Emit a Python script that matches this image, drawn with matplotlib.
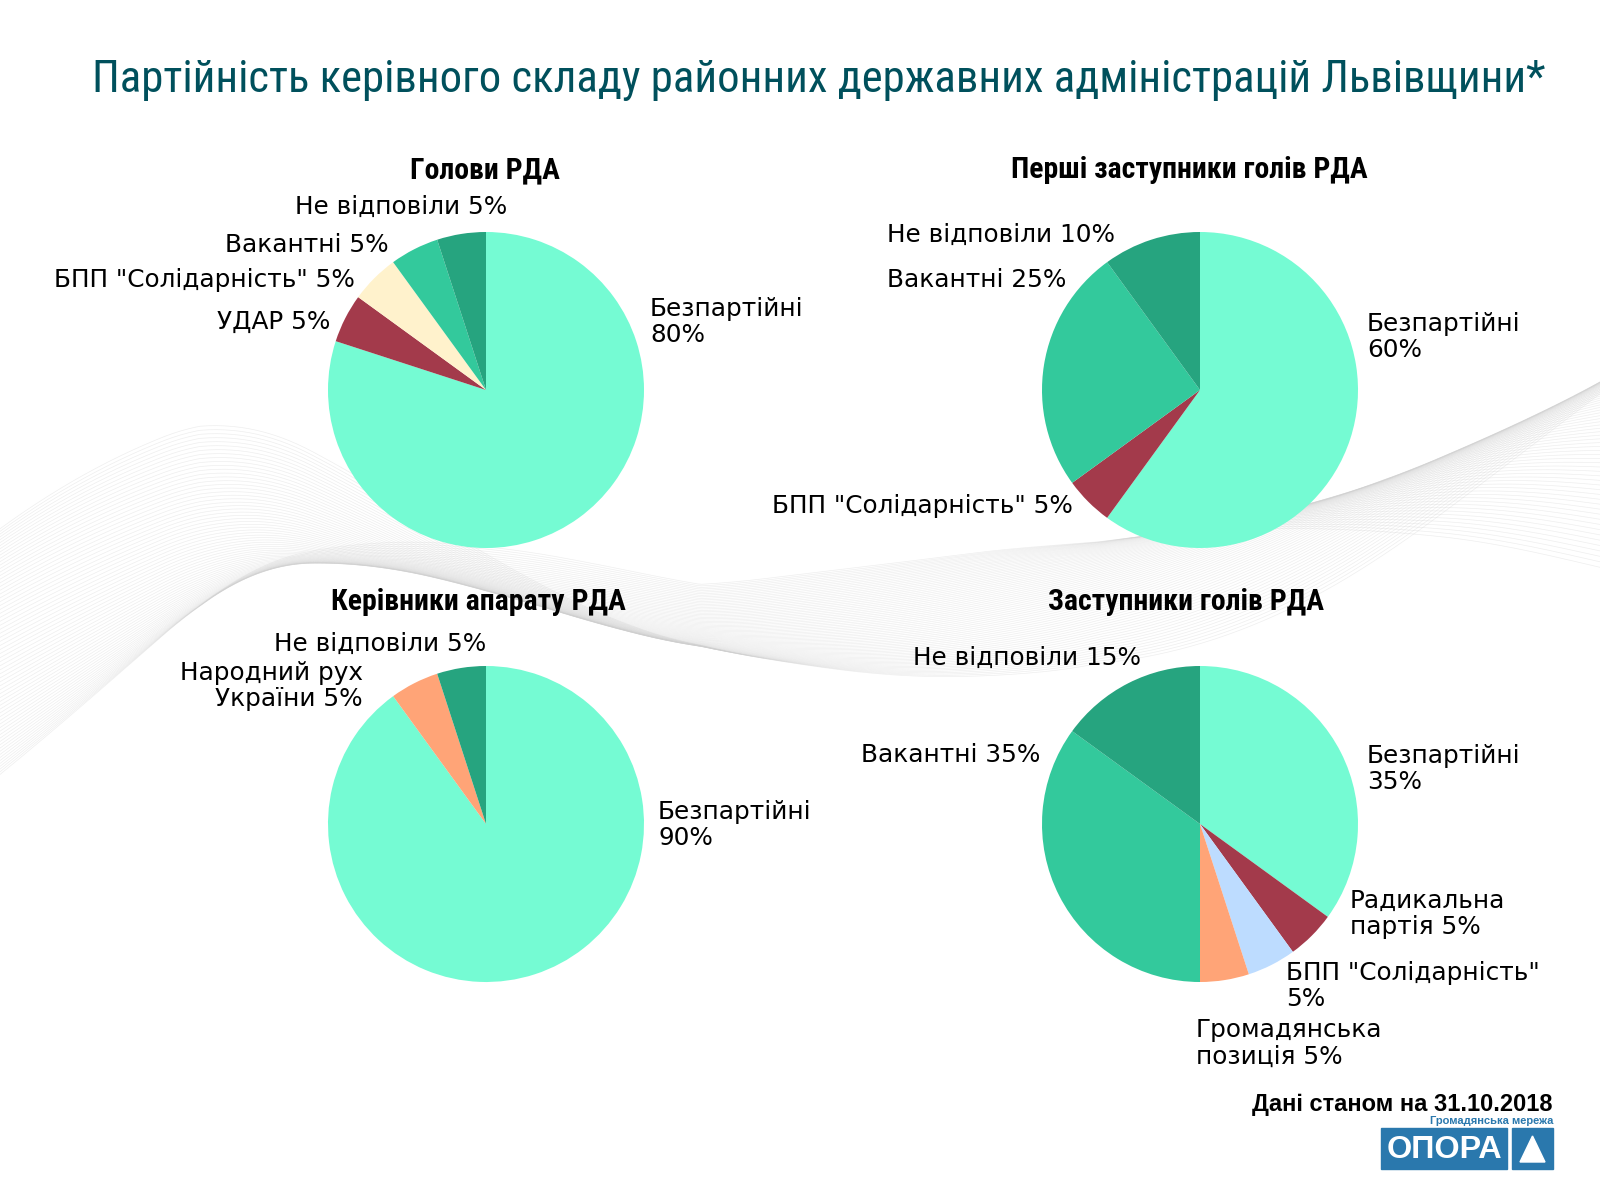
import matplotlib
matplotlib.use('Agg')
import matplotlib.pyplot as plt
from matplotlib.patches import Rectangle, Polygon
import numpy as np

# шрифти
plt.rcParams['font.family'] = ['DejaVu Sans']
NARROW = ['Roboto Condensed', 'Liberation Sans Narrow', 'DejaVu Sans']

# дані
tl_title = 'Голови РДА'
tl_labels = ['Безпартійні', 'УДАР', 'БПП "Солідарність"', 'Вакантні', 'Не відповіли']
tl_values = [80, 5, 5, 5, 5]

tr_title = 'Перші заступники голів РДА'
tr_labels = ['Безпартійні', 'БПП "Солідарність"', 'Вакантні', 'Не відповіли']
tr_values = [60, 5, 25, 10]

bl_title = 'Керівники апарату РДА'
bl_labels = ['Безпартійні', 'Народний рух України', 'Не відповіли']
bl_values = [90, 5, 5]

br_title = 'Заступники голів РДА'
br_labels = ['Безпартійні', 'Радикальна партія', 'БПП "Солідарність"',
             'Громадянська позиція', 'Вакантні', 'Не відповіли']
br_values = [35, 5, 5, 5, 35, 15]

colors = {
    'Безпартійні': '#75fbd3',
    'Вакантні': '#33c99c',
    'Не відповіли': '#26a47f',
    'УДАР': '#a33a4b',
    'Радикальна партія': '#a33a4b',
    'БПП "Солідарність"': '#fff2cc',
    'Народний рух України': '#ffa477',
    'Громадянська позиція': '#ffa477',
}

fig = plt.figure(figsize=(16, 12), dpi=100)
ax = fig.add_axes([0, 0, 1, 1])

# фонова хвиля (декор)
xs = np.linspace(0, 1600, 400)
cx = [0, 150, 400, 600, 800, 1000, 1200, 1400, 1600]
cy = [700, 520, 560, 630, 640, 610, 560, 470, 400]
centre = np.interp(xs, cx, cy)
centre = np.convolve(np.pad(centre, 40, mode='edge'), np.ones(81) / 81, mode='valid')
wid = np.interp(xs, [0, 200, 700, 1100, 1600], [140, 130, 50, 80, 170])
for t in np.linspace(-1, 1, 70):
    y = centre + t * wid * np.cos(xs / 300.0 + t * 0.5)
    ax.plot(xs, y, color='#cfcfcf', lw=0.5, alpha=0.35, zorder=0)


def draw_pie(values, labels, centre_xy, override=None):
    cols = [colors[l] for l in labels]
    if override:
        for i, c in override.items():
            cols[i] = c
    # y-вісь перевернута, тому counterclock=True дає обхід за годинниковою
    ax.pie(values, colors=cols, startangle=-90, counterclock=True,
           center=centre_xy, radius=158, frame=True,
           wedgeprops=dict(linewidth=0))


draw_pie(tl_values, tl_labels, (486, 390))
draw_pie(tr_values, tr_labels, (1200, 390), {1: '#a33a4b'})
draw_pie(bl_values, bl_labels, (486, 824))
draw_pie(br_values, br_labels, (1200, 824), {2: '#bddcff'})

ax.set_xlim(0, 1600)
ax.set_ylim(1200, 0)
ax.set_aspect('equal')
ax.axis('off')

renderer = fig.canvas.get_renderer()


def fit_text(x, y, s, width, size, **kw):
    t = ax.text(x, y, s, fontsize=size, **kw)
    w = t.get_window_extent(renderer).width
    if w > width:
        t.set_fontsize(size * width / w)
    return t


# заголовки
fit_text(819, 80, 'Партійність керівного складу районних державних адміністрацій Львівщини*',
         1454, 40, family=NARROW, fontstretch='condensed', color='#00505c',
         ha='center', va='center')
sub = dict(family=NARROW, fontstretch='condensed', fontweight='bold', color='black',
           ha='center', va='center')
fit_text(485, 170, tl_title, 150, 26, **sub)
fit_text(1189, 170, tr_title, 358, 26, **sub)
fit_text(478, 602, bl_title, 296, 26, **sub)
fit_text(1186, 602, br_title, 276, 26, **sub)

lab = dict(fontsize=17.8, color='black', va='center', linespacing=1.15)
# Голови РДА
ax.text(507, 207, 'Не відповіли 5%', ha='right', **lab)
ax.text(389, 245, 'Вакантні 5%', ha='right', **lab)
ax.text(355, 280, 'БПП "Солідарність" 5%', ha='right', **lab)
ax.text(330, 322, 'УДАР 5%', ha='right', **lab)
ax.text(650, 322, 'Безпартійні\n80%', ha='left', **lab)
# Перші заступники
ax.text(1115, 235, 'Не відповіли 10%', ha='right', **lab)
ax.text(1066, 280, 'Вакантні 25%', ha='right', **lab)
ax.text(1073, 506, 'БПП "Солідарність" 5%', ha='right', **lab)
ax.text(1367, 337, 'Безпартійні\n60%', ha='left', **lab)
# Керівники апарату
ax.text(486, 644, 'Не відповіли 5%', ha='right', **lab)
ax.text(363, 686, 'Народний рух\nУкраїни 5%', ha='right', multialignment='right', **lab)
ax.text(658, 825, 'Безпартійні\n90%', ha='left', **lab)
# Заступники
ax.text(1141, 658, 'Не відповіли 15%', ha='right', **lab)
ax.text(1040, 755, 'Вакантні 35%', ha='right', **lab)
ax.text(1367, 769, 'Безпартійні\n35%', ha='left', **lab)
ax.text(1350, 914, 'Радикальна\nпартія 5%', ha='left', **lab)
ax.text(1286, 986, 'БПП "Солідарність"\n5%', ha='left', **lab)
ax.text(1196, 1043, 'Громадянська\nпозиція 5%', ha='left', **lab)

# підпис і логотип
arial = ['Liberation Sans', 'DejaVu Sans']
ax.text(1552, 1104, 'Дані станом на 31.10.2018', family=arial,
        fontsize=17, fontweight='bold', ha='right', va='center')
ax.text(1553, 1121, 'Громадянська мережа', family=arial,
        fontsize=8, fontweight='bold', color='#2a78ad', ha='right', va='center')
ax.add_patch(Rectangle((1381, 1128), 126, 41, color='#2a78ad', zorder=5))
ax.add_patch(Rectangle((1512, 1128), 41, 41, color='#2a78ad', zorder=5))
ax.add_patch(Polygon([[1520, 1162], [1545, 1162], [1532.5, 1136]], color='white', zorder=6))
fit_text(1444, 1150, 'ОПОРА', 116, 27, family=arial, fontweight='bold',
         color='white', ha='center', va='center', zorder=6)

fig.savefig('out.png', dpi=100, facecolor='white')
